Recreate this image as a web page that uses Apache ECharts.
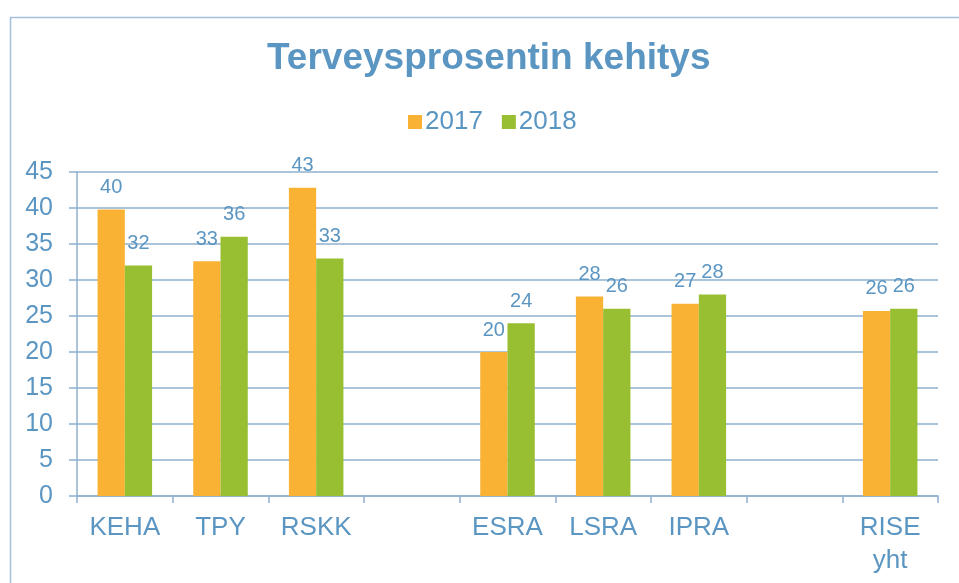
<!DOCTYPE html>
<html>
<head>
<meta charset="utf-8">
<script src="https://cdn.jsdelivr.net/npm/echarts@6/dist/echarts.min.js"></script>
<style>
  html, body { margin: 0; padding: 0; background: #fff; }
  #main { width: 959px; height: 583px; }
</style>
</head>
<body>
<div id="main"></div>
<script>
// categories (empty slots are gaps in the original chart)
var categories = ['KEHA', 'TPY', 'RSKK', '', 'ESRA', 'LSRA', 'IPRA', '', 'RISE\nyht'];
var values2017 = [39.8, 32.6, 42.8, null, 20.0, 27.7, 26.7, null, 25.7];
var values2018 = [32.0, 36.0, 33.0, null, 24.0, 26.0, 28.0, null, 26.0];
var seriesNames = ['2017', '2018'];

var textBlue = '#5B96C2';
var lineBlue = '#8FB0CE';

/*
* bar label options
*/
var barLabel = {
    show: true,
    position: 'top',
    distance: 12,
    color: textBlue,
    fontSize: 20,
    fontFamily: 'Liberation Sans',
    formatter: function (p) { return Math.round(p.value); }
};

var option = {
    animation: false,
    title: {
        text: 'Terveysprosentin kehitys',
        left: 262,
        top: 35,
        textStyle: {
            color: textBlue,
            fontSize: 37,
            fontWeight: 'bold',
            fontFamily: 'Liberation Sans'
        }
    },
    legend: {
        data: seriesNames,
        left: 403,
        top: 104,
        icon: 'rect',
        itemWidth: 14,
        itemHeight: 14,
        itemGap: 19,
        textStyle: {
            color: textBlue,
            fontSize: 26,
            fontFamily: 'Liberation Sans',
            padding: [0, 0, 0, -2]
        }
    },
    graphic: [
        {
            type: 'rect',
            left: 8,
            top: 15,
            shape: { width: 1000, height: 700 },
            style: { fill: 'none', stroke: '#A5BFDA', lineWidth: 1.5 },
            silent: true
        }
    ],
    grid: {
        left: 77,
        right: 21,
        top: 172,
        bottom: 87,
        containLabel: false
    },
    xAxis: {
        type: 'category',
        data: categories,
        axisLine: { show: true, lineStyle: { color: lineBlue, width: 1.5 } },
        axisTick: { show: true, length: 7, alignWithLabel: false, lineStyle: { color: lineBlue, width: 1.5 } },
        axisLabel: {
            color: textBlue,
            fontSize: 26,
            fontFamily: 'Liberation Sans',
            margin: 15,
            lineHeight: 33,
            interval: 0
        }
    },
    yAxis: {
        type: 'value',
        min: 0,
        max: 45,
        interval: 5,
        axisLine: { show: true, lineStyle: { color: lineBlue, width: 1.5 } },
        axisTick: { show: true, length: 8, lineStyle: { color: lineBlue, width: 1.5 } },
        splitLine: { show: true, lineStyle: { color: lineBlue, width: 1.5 } },
        axisLabel: {
            color: textBlue,
            fontSize: 25,
            fontFamily: 'Liberation Sans',
            margin: 24
        }
    },
    series: [
        {
            name: seriesNames[0],
            type: 'bar',
            data: values2017,
            barGap: '0%',
            barCategoryGap: '43%',
            itemStyle: { color: '#F9B233' },
            label: barLabel
        },
        {
            name: seriesNames[1],
            type: 'bar',
            data: values2018,
            itemStyle: { color: '#98BE32' },
            label: barLabel
        }
    ]
};

var myChart = echarts.init(document.getElementById('main'));
myChart.setOption(option);
</script>
</body>
</html>
